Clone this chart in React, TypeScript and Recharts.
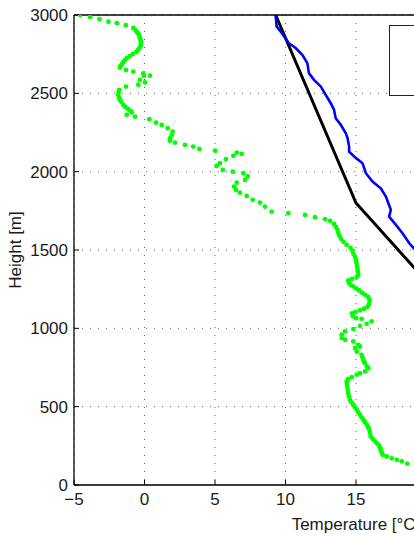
import React from 'react';
import { ComposedChart, Line, Scatter, XAxis, YAxis, CartesianGrid } from 'recharts';

const xTicks = [-5, 0, 5, 10, 15, 20, 25, 30, 35];
const yTicks = [0, 500, 1000, 1500, 2000, 2500, 3000];

const temperatureT = [9.3, 9.37, 9.65, 10.0, 10.24, 10.72, 11.19, 11.55, 11.66, 12.02, 12.5, 12.85, 13.21, 13.44, 13.56, 13.92, 14.27, 14.4, 14.51, 14.51, 14.87, 15.46, 15.7, 16.17, 16.76, 17.12, 17.47, 17.35, 17.83, 18.3, 18.78, 19.1, 19.8];
const temperatureH = [3000, 2927, 2895, 2852, 2820, 2789, 2746, 2693, 2629, 2586, 2544, 2490, 2437, 2395, 2341, 2299, 2246, 2214, 2160, 2128, 2097, 2054, 1990, 1937, 1894, 1841, 1756, 1713, 1660, 1607, 1543, 1511, 1450];

const parcelT = [9.3, 15.0, 33.0];
const parcelH = [3000, 1800, 0];

const dewPointT = [-4.57, -3.86, -3.2, -2.56, -1.96, -1.32,
  -0.79, -0.64, -0.53, -0.43, -0.37, -0.32, -0.28, -0.25, -0.25, -0.28, -0.35, -0.46, -0.57, -0.82, -1.03, -1.24, -1.38, -1.49, -1.6, -1.7, -1.74,
  -1.31, -0.79, -0.09, 0.39, -0.04, -0.32, 0.04, -0.44, -1.31,
  -1.79, -1.83, -1.86, -1.79, -1.74, -1.65, -1.5, -1.35, -1.17, -0.99, -0.91,
  -1.26, -0.67,
  0.34, 0.82, 1.22, 1.65, 2.0, 1.93, 1.81, 1.81, 2.16, 2.87, 3.46, 3.89, 5.0, 6.54, 6.89, 6.3, 5.78, 5.35, 5.12, 5.55, 6.26, 7.01, 7.32, 7.13, 6.54, 6.35, 6.49, 6.77, 7.25, 7.67, 8.19, 8.55, 9.02,
  10.2, 11.38, 12.09, 12.8, 13.16,
  13.44, 13.58, 13.69, 13.74, 13.83, 13.94, 14.11, 14.33, 14.61, 14.75, 14.82, 14.93, 15.0, 15.04, 15.07, 15.11, 15.14, 15.16, 15.05, 14.72, 14.45, 14.5, 14.61, 14.79, 15.0, 15.21, 15.43, 15.64, 15.85, 15.96, 15.96, 15.92, 15.82, 15.57, 15.28, 14.96, 14.72, 14.79, 15.0, 15.4, 16.11, 15.76, 15.28, 14.81, 14.22, 13.99, 13.99, 14.22, 14.81, 15.16, 15.28, 14.93, 15.05, 15.4, 15.46, 15.52, 15.57, 15.64, 15.77, 15.87, 15.64, 15.28, 15.05, 14.7, 14.45, 14.34, 14.36, 14.38, 14.42, 14.45, 14.5, 14.57, 14.68, 14.81, 14.93, 15.05, 15.16, 15.28, 15.4, 15.52, 15.64, 15.77, 15.86, 15.94, 15.99, 16.04, 16.19, 16.35, 16.5, 16.65, 16.7, 16.75, 16.82, 16.89, 17.18, 17.53, 17.89, 18.24, 18.64];
const dewPointH = [3000, 2987, 2974, 2957, 2948, 2935,
  2917, 2904, 2891, 2879, 2866, 2853, 2840, 2828, 2815, 2802, 2789, 2777, 2764, 2751, 2738, 2726, 2713, 2700, 2687, 2675, 2665,
  2649, 2638, 2628, 2613, 2611, 2586, 2569, 2555, 2543,
  2522, 2509, 2490, 2471, 2458, 2446, 2426, 2414, 2401, 2388, 2378,
  2363, 2351,
  2335, 2313, 2298, 2277, 2256, 2234, 2213, 2198, 2185, 2171, 2160, 2145, 2134, 2122, 2113, 2101, 2080, 2054, 2037, 2011, 2000, 1990, 1969, 1947, 1930, 1905, 1884, 1866, 1845, 1820, 1803, 1777, 1745,
  1735, 1724, 1709, 1697, 1686,
  1667, 1648, 1629, 1609, 1590, 1571, 1552, 1533, 1514, 1495, 1475, 1456, 1437, 1418, 1399, 1380, 1361, 1341, 1327, 1316, 1306, 1290, 1278, 1268, 1255, 1243, 1227, 1214, 1201, 1185, 1169, 1153, 1137, 1125, 1115, 1105, 1096, 1077, 1065, 1061, 1044, 1029, 1016, 995, 980, 959, 938, 927, 916, 895, 884, 874, 852, 831, 815, 799, 788, 778, 757, 746, 725, 714, 704, 689, 676, 661, 646, 629, 608, 587, 566, 544, 528, 512, 496, 480, 464, 448, 432, 417, 401, 385, 369, 353, 332, 310, 294, 278, 264, 251, 238, 225, 209, 193, 182, 170, 161, 151, 136];

const legendLabels = ['Temperature', 'Dew point', 'Parcel'];
const legendColors = ['#0000ff', '#00ff00', '#000000'];

const zip = (ts: number[], hs: number[]) => ts.map((t, i) => ({ t, h: hs[i] }));
const temperatureData = zip(temperatureT, temperatureH);
const parcelData = zip(parcelT, parcelH);
const dewPointData = zip(dewPointT, dewPointH);

const FONT = '"Liberation Sans", Arial, Helvetica, sans-serif';
const fmt = (v: number) => String(v).replace('-', '\u2212');

export default function App() {
  return (
    <div style={{ position: 'fixed', left: 0, top: 0, width: 414, height: 536, overflow: 'hidden', background: '#fff' }}>
      <ComposedChart width={660} height={536} margin={{ top: 0, right: 22, bottom: 0, left: 0 }}>
        <CartesianGrid stroke="#666" strokeDasharray="1 7" />
        <XAxis
          dataKey="t"
          type="number"
          domain={[-5, 35]}
          ticks={xTicks}
          allowDataOverflow
          height={51}
          tickSize={-5}
          tickMargin={13}
          tickFormatter={fmt}
          axisLine={{ stroke: '#000', strokeWidth: 1.3 }}
          tickLine={{ stroke: '#000' }}
          tick={{ fill: '#1a1a1a', fontSize: 17, fontFamily: FONT }}
          label={(props: any) => {
            const vb = props.viewBox || {};
            const cx = (vb.x ?? 74) + (vb.width ?? 564) / 2;
            return (
              <text x={cx} y={530} textAnchor="middle" fill="#1a1a1a" fontSize={17} fontFamily={FONT}>
                Temperature [°C]
              </text>
            );
          }}
        />
        <XAxis
          xAxisId="top"
          orientation="top"
          type="number"
          domain={[-5, 35]}
          ticks={xTicks}
          allowDataOverflow
          height={15}
          tick={false}
          tickSize={-5}
          axisLine={{ stroke: '#000', strokeWidth: 1.3 }}
          tickLine={{ stroke: '#000' }}
        />
        <YAxis
          dataKey="h"
          type="number"
          domain={[0, 3000]}
          ticks={yTicks}
          allowDataOverflow
          width={74}
          tickSize={-5}
          tickMargin={11}
          axisLine={{ stroke: '#000', strokeWidth: 1.3 }}
          tickLine={{ stroke: '#000' }}
          tick={{ fill: '#1a1a1a', fontSize: 17, fontFamily: FONT }}
          label={() => (
            <text x={15} y={250} transform="rotate(-90 15 250)" textAnchor="middle" dominantBaseline="central" fill="#1a1a1a" fontSize={17} fontFamily={FONT}>
              Height [m]
            </text>
          )}
        />
        <Line data={parcelData} dataKey="h" stroke="#000000" strokeWidth={3} dot={false} isAnimationActive={false} />
        <Line data={temperatureData} dataKey="h" stroke="#0000ff" strokeWidth={2.6} dot={false} isAnimationActive={false} />
        <Scatter
          data={dewPointData}
          dataKey="h"
          fill="#00ff00"
          isAnimationActive={false}
          shape={(p: any) => <circle cx={p.cx} cy={p.cy} r={2.4} fill="#00ff00" />}
        />
      </ComposedChart>
      <div
        style={{
          position: 'absolute',
          left: 389,
          top: 25,
          width: 140,
          height: 71,
          border: '1.3px solid #222',
          background: '#fff',
          fontFamily: FONT,
          fontSize: 15,
          boxSizing: 'border-box',
        }}
      >
        {legendLabels.map((l, i) => (
          <div key={l} style={{ display: 'flex', alignItems: 'center', height: 22, paddingLeft: 30 }}>
            <span style={{ display: 'inline-block', width: 30, height: 0, borderTop: `3px solid ${legendColors[i]}`, marginRight: 6 }} />
            <span>{l}</span>
          </div>
        ))}
      </div>
    </div>
  );
}
